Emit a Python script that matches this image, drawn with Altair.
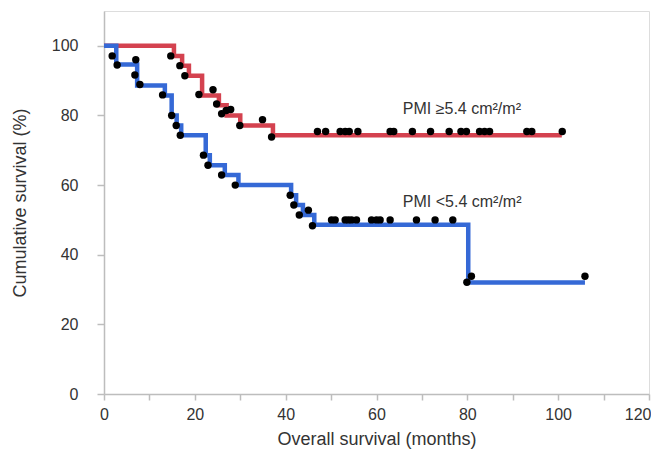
import altair as alt
import pandas as pd

# Step curves (time in months, cumulative survival %)
red_time = [0, 15.4, 17.2, 18.7, 21.6, 25.3, 27.0, 30.0, 37.2, 100.8]
red_surv = [100, 97.1, 94.3, 91.4, 85.7, 82.9, 80.0, 77.1, 74.3, 74.3]

blue_time = [0, 2.7, 7.3, 13.4, 14.9, 16.0, 17.0, 22.4, 23.3, 26.6, 29.6, 41.2, 42.3, 43.8, 46.3, 80.2, 105.9]
blue_surv = [100, 94.6, 88.6, 85.7, 80.0, 77.1, 74.3, 68.6, 65.7, 62.9, 60.0, 57.1, 54.3, 51.4, 48.6, 32.0, 32.0]

# Marker dots
red_dot_time = [14.7, 16.7, 17.8, 20.9, 24.0, 24.8, 25.9, 26.9, 27.9, 29.9, 34.9, 36.9,
                47.0, 48.8, 52.0, 53.1, 54.0, 55.9, 63.0, 63.8, 67.9, 71.9, 76.0, 78.6,
                79.8, 82.7, 83.8, 84.9, 93.1, 94.2, 100.9]
red_dot_surv = [97.1, 94.3, 91.4, 86.0, 87.4, 83.3, 80.5, 81.4, 81.7, 77.1, 78.8, 73.8,
                75.4, 75.4, 75.4, 75.4, 75.4, 75.4, 75.4, 75.4, 75.4, 75.4, 75.4, 75.4,
                75.4, 75.4, 75.4, 75.4, 75.4, 75.4, 75.4]

blue_dot_time = [1.8, 2.9, 7.0, 6.8, 7.9, 12.9, 14.9, 15.9, 16.8, 21.9, 22.9, 25.9, 28.9,
                 41.0, 41.8, 43.0, 45.0, 45.9,
                 50.1, 50.9, 53.1, 53.8, 54.5, 55.6, 58.9, 60.0, 60.8, 63.0, 68.8, 72.9, 76.8,
                 79.9, 80.9, 105.9]
blue_dot_surv = [97.1, 94.5, 96.0, 91.6, 88.9, 85.9, 80.0, 77.1, 74.3, 68.6, 65.7, 62.9, 60.0,
                 57.1, 54.3, 51.4, 52.8, 48.3,
                 50, 50, 50, 50, 50, 50, 50, 50, 50, 50, 50, 50, 50,
                 32.1, 33.8, 33.8]

label_text = ["PMI \u22655.4 cm\u00b2/m\u00b2", "PMI <5.4 cm\u00b2/m\u00b2"]
label_time = [65.8, 65.8]
label_surv = [80.3, 53.7]

FONT = "Liberation Sans"
GRAY = "#bdbdbd"
TXT = "#333333"

x_scale = alt.Scale(domain=[0, 120], nice=False, zero=True)
y_scale = alt.Scale(domain=[0, 110], nice=False, zero=True)

x_axis = alt.Axis(
    values=list(range(0, 121, 10)),
    labelExpr="datum.value % 20 === 0 ? datum.label : ''",
    labelAlign={"condition": {"test": "datum.value === 120", "value": "right"}, "value": "center"},
    labelOffset={"condition": {"test": "datum.value === 120", "value": 2}, "value": 0},
    title="Overall survival (months)",
    grid=False, tickSize=6, labelPadding=6, titlePadding=8,
    labelFlush=False, labelOverlap=False,
    domainColor=GRAY, tickColor=GRAY, domainWidth=1.5, tickWidth=1.5,
    labelColor=TXT, titleColor=TXT, labelFont=FONT, titleFont=FONT,
    labelFontSize=16, titleFontSize=18, titleFontWeight="normal",
)
y_axis = alt.Axis(
    values=list(range(0, 111, 10)),
    labelExpr="(datum.value % 20 === 0 && datum.value <= 100) ? datum.label : ''",
    title="Cumulative survival (%)",
    grid=False, tickSize=7, labelPadding=19, titlePadding=22,
    labelFlush=False, labelOverlap=False,
    domainColor=GRAY, tickColor=GRAY, domainWidth=1.5, tickWidth=1.5,
    labelColor=TXT, titleColor=TXT, labelFont=FONT, titleFont=FONT,
    labelFontSize=16, titleFontSize=18, titleFontWeight="normal",
)

red_df = pd.DataFrame({"t": red_time, "s": red_surv})
blue_df = pd.DataFrame({"t": blue_time, "s": blue_surv})
dots_df = pd.DataFrame({"t": red_dot_time + blue_dot_time, "s": red_dot_surv + blue_dot_surv})
lab_df = pd.DataFrame({"t": label_time, "s": label_surv, "txt": label_text})

red_line = alt.Chart(red_df).mark_line(interpolate="step-after", color="#d4424f", strokeWidth=4.5).encode(
    x=alt.X("t:Q", scale=x_scale, axis=x_axis),
    y=alt.Y("s:Q", scale=y_scale, axis=y_axis),
)
blue_line = alt.Chart(blue_df).mark_line(interpolate="step-after", color="#3569d6", strokeWidth=4.5).encode(
    x=alt.X("t:Q", scale=x_scale),
    y=alt.Y("s:Q", scale=y_scale),
)
dots = alt.Chart(dots_df).mark_circle(color="black", opacity=1, size=55).encode(
    x=alt.X("t:Q", scale=x_scale),
    y=alt.Y("s:Q", scale=y_scale),
)
labels = alt.Chart(lab_df).mark_text(align="left", baseline="alphabetic", fontSize=16, font=FONT, color=TXT).encode(
    x=alt.X("t:Q", scale=x_scale),
    y=alt.Y("s:Q", scale=y_scale),
    text="txt:N",
)

chart = alt.layer(red_line, blue_line, dots, labels).properties(
    width=545, height=383,
    autosize=alt.AutoSizeParams(type="none"),
    padding={"left": 96, "top": 3, "right": 2, "bottom": 55},
).configure_view(stroke=GRAY, strokeWidth=1.5).configure(background="white")

chart.save("out.html", embed_options={"renderer": "svg", "actions": False})
